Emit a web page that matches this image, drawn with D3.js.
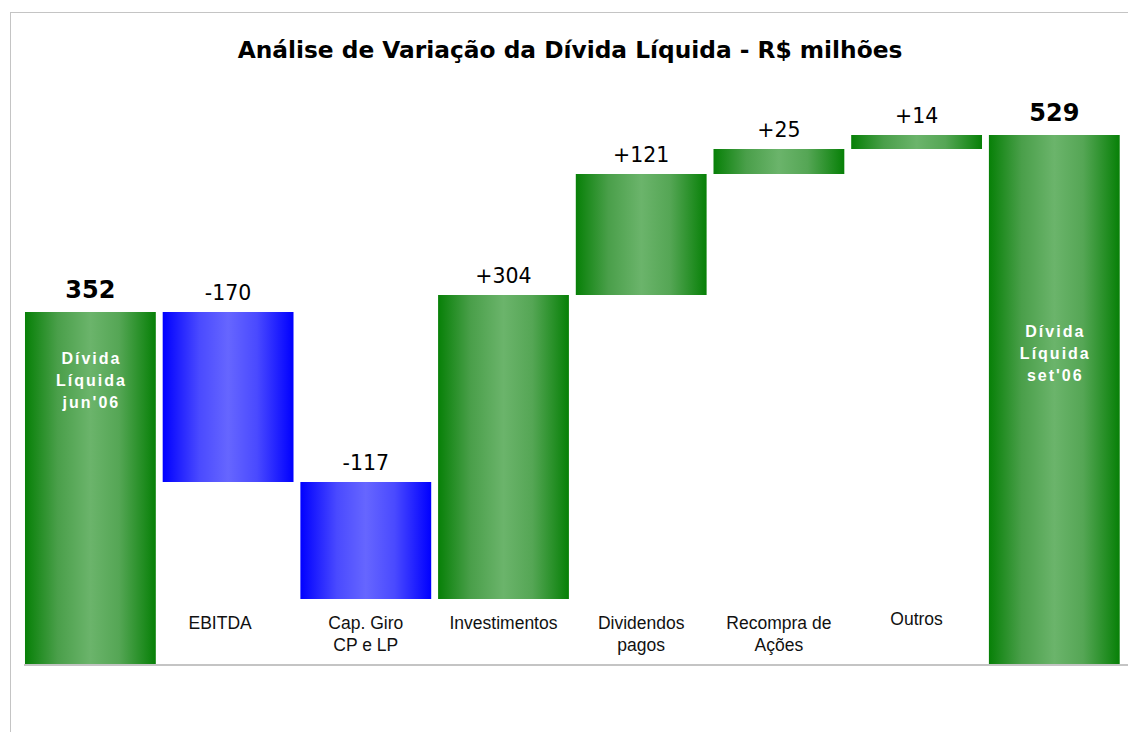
<!DOCTYPE html>
<html lang="pt">
  <head>
    <meta charset="UTF-8" />
    <script src="https://d3js.org/d3.v7.min.js"></script>
    <title>Análise de Variação da Dívida Líquida</title>
    <style type="text/css">
      body { margin: 0; background: #fff; }
    </style>
  </head>
  <body>
    <svg width="1128" height="732"></svg>
  </body>
  <script type="text/javascript">
    // data
    const categories = ['jun06', 'EBITDA', 'CapGiro', 'Investimentos', 'Dividendos', 'Recompra', 'Outros', 'set06'];
    const values = [352, -170, -117, 304, 121, 25, 14, 529];
    const isTotal = [true, false, false, false, false, false, false, true];
    const valueLabels = ['352', '-170', '-117', '+304', '+121', '+25', '+14', '529'];
    const axisLabels = [[], ['EBITDA'], ['Cap. Giro', 'CP e LP'], ['Investimentos'], ['Dividendos', 'pagos'], ['Recompra de', 'Ações'], ['Outros'], []];
    const insideLabels = [['Dívida', 'Líquida', "jun'06"], [], [], [], [], [], [], ['Dívida', 'Líquida', "set'06"]];

    // waterfall steps
    let running = 0;
    const rows = categories.map((c, i) => {
      let start, end;
      if (isTotal[i]) {
        start = 0;
        end = values[i];
        running = values[i];
      } else {
        start = running;
        end = running + values[i];
        running = end;
      }
      return { key: c, i, lo: Math.min(start, end), hi: Math.max(start, end), total: isTotal[i], neg: values[i] < 0 };
    });

    const svg = d3.select('svg');

    // gradients
    const defs = svg.append('defs');
    const grad = (id, stops) => {
      const g = defs.append('linearGradient').attr('id', id).attr('x1', 0).attr('x2', 1).attr('y1', 0).attr('y2', 0);
      stops.forEach(([o, c]) => g.append('stop').attr('offset', o).attr('stop-color', c));
    };
    grad('green', [[0, '#078007'], [0.25, '#4a9f4a'], [0.5, '#6bb46b'], [0.72, '#55a655'], [1, '#078007']]);
    grad('blue', [[0, '#0000ff'], [0.28, '#4a4aff'], [0.5, '#6666ff'], [0.72, '#4a4aff'], [1, '#0000ff']]);

    // frame
    svg.append('rect')
      .attr('x', 10.5).attr('y', 12.5)
      .attr('width', 1300).attr('height', 900)
      .attr('fill', 'none')
      .attr('stroke', '#c4c4c4');

    // scales
    const xScale = d3.scaleBand()
      .domain(categories)
      .range([18.1, 1126.6])
      .paddingInner(0.05)
      .paddingOuter(0.05);

    const yScale = d3.scaleLinear()
      .domain([0, d3.max(values)])
      .range([664, 135]);

    // title
    svg.append('text')
      .attr('x', 570)
      .attr('y', 58)
      .attr('text-anchor', 'middle')
      .attr('font-family', 'DejaVu Sans, Verdana, sans-serif')
      .attr('font-weight', 'bold')
      .attr('font-size', '23.3px')
      .text('Análise de Variação da Dívida Líquida - R$ milhões');

    // bars
    svg.selectAll('.bar')
      .data(rows)
      .join('rect')
      .attr('class', 'bar')
      .attr('x', (d) => xScale(d.key))
      .attr('y', (d) => yScale(d.hi))
      .attr('width', xScale.bandwidth())
      .attr('height', (d) => yScale(d.lo) - yScale(d.hi))
      .attr('fill', (d) => (d.neg ? 'url(#blue)' : 'url(#green)'));

    // baseline
    svg.append('line')
      .attr('x1', 24).attr('x2', 1128)
      .attr('y1', yScale(0) + 1).attr('y2', yScale(0) + 1)
      .attr('stroke', '#c4c4c4')
      .attr('stroke-width', 2);

    // value labels
    svg.selectAll('.val')
      .data(rows)
      .join('text')
      .attr('class', 'val')
      .attr('x', (d) => xScale(d.key) + xScale.bandwidth() / 2)
      .attr('y', (d) => yScale(d.hi) - (d.total ? 14 : 12))
      .attr('text-anchor', 'middle')
      .attr('font-family', 'DejaVu Sans, Verdana, sans-serif')
      .attr('font-weight', (d) => (d.total ? 'bold' : 'normal'))
      .attr('font-size', (d) => (d.total ? '24px' : '20.5px'))
      .attr('fill', '#000')
      .text((d) => valueLabels[d.i]);

    // category labels
    const cat = svg.selectAll('.cat')
      .data(rows)
      .join('text')
      .attr('class', 'cat')
      .attr('x', (d) => xScale(d.key) + xScale.bandwidth() / 2)
      .attr('y', (d) => (d.key === 'Outros' ? 625 : 629))
      .attr('text-anchor', 'middle')
      .attr('font-family', 'Liberation Sans, Arial, sans-serif')
      .attr('font-size', '17.5px')
      .attr('fill', '#111');
    cat.selectAll('tspan')
      .data((d) => axisLabels[d.i].map((t) => ({ t, x: xScale(d.key) + xScale.bandwidth() / 2 - (d.key === 'EBITDA' ? 8 : 0) })))
      .join('tspan')
      .attr('x', (d) => d.x)
      .attr('dy', (d, j) => (j === 0 ? 0 : 22))
      .text((d) => d.t);

    // labels inside total bars
    const inner = svg.selectAll('.inner')
      .data(rows.filter((d) => d.total))
      .join('text')
      .attr('class', 'inner')
      .attr('x', (d) => xScale(d.key) + xScale.bandwidth() / 2)
      .attr('y', (d) => (d.i === 0 ? 364 : 337))
      .attr('text-anchor', 'middle')
      .attr('font-family', 'Liberation Sans, Arial, sans-serif')
      .attr('font-weight', 'bold')
      .attr('font-size', '16px')
      .attr('letter-spacing', '2px')
      .attr('fill', '#fff');
    inner.selectAll('tspan')
      .data((d) => insideLabels[d.i].map((t) => ({ t, x: xScale(d.key) + xScale.bandwidth() / 2 + 1 })))
      .join('tspan')
      .attr('x', (d) => d.x)
      .attr('dy', (d, j) => (j === 0 ? 0 : 22))
      .text((d) => d.t);
  </script>
</html>
